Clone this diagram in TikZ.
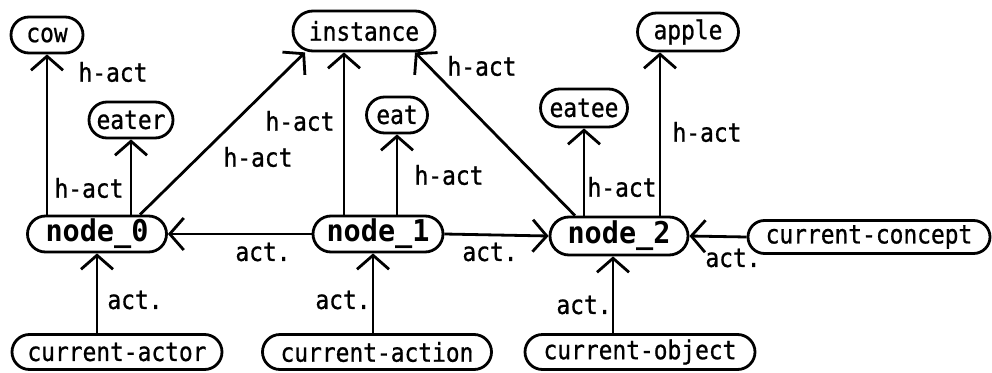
\documentclass[tikz,border=0pt]{standalone}
\usepackage{fontspec}
\setmonofont{DejaVu Sans Mono}
\newfontfamily\lblfont{DejaVu Sans Mono}[FakeStretch=0.88, FakeBold=0.8]
\newfontfamily\boldlblfont{DejaVu Sans Mono Bold}[FakeStretch=0.95]
\usetikzlibrary{shapes.misc,arrows.meta}
\begin{document}
\begin{tikzpicture}[x=1pt,y=-1pt,
  box/.style={draw, line width=2.8pt, rounded rectangle, inner sep=0pt, minimum height=36pt, font=\lblfont\fontsize{26}{26}\selectfont},
  bnode/.style={box, font=\boldlblfont\fontsize{30}{30}\selectfont},
  arr/.style={line width=2.8pt, -{Straight Barb[length=14pt,width=32pt]}},
  lbl/.style={font=\lblfont\fontsize{26}{26}\selectfont, inner sep=0pt}]
\useasboundingbox (0,0) rectangle (992,372);
% nodes
\node[box, minimum width=72pt] (cow) at (47,35) {cow};
\node[box, minimum width=84pt] (eater) at (131,120) {eater};
\node[box, minimum width=142pt, minimum height=40pt] (instance) at (364,31) {instance};
\node[box, minimum width=61pt] (eat) at (397,115) {eat};
\node[box, minimum width=87pt, minimum height=38pt] (eatee) at (584,108) {eatee};
\node[box, minimum width=101pt, minimum height=38pt] (apple) at (688,32) {apple};
\node[bnode, minimum width=139pt] (n0) at (97,234) {node\_0};
\node[bnode, minimum width=130pt] (n1) at (378,234) {node\_1};
\node[bnode, minimum width=138pt, minimum height=38pt] (n2) at (619,236) {node\_2};
\node[box, minimum width=242pt, minimum height=33pt] (cc) at (869,237) {current-concept};
\node[box, minimum width=210pt, minimum height=35pt] (ca) at (117,352) {current-actor};
\node[box, minimum width=229pt, minimum height=35pt] (cac) at (377,352) {current-action};
\node[box, minimum width=230pt, minimum height=35pt] (co) at (640,352) {current-object};
% connectors
\draw[arr] (n0.north -| cow.south) -- (cow.south);
\draw[arr] (n0.north -| eater.south) -- (eater.south);
\draw[arr] ([xshift=43pt]n0.north) -- ([xshift=-59pt]instance.south);
\draw[arr] ([xshift=-34pt]n1.north) -- ([xshift=-34pt]n1.north |- instance.south);
\draw[arr] (n1.north -| eat.south) -- (eat.south);
\draw[arr] ([xshift=-44pt]n2.north) -- ([xshift=51pt]instance.south);
\draw[arr] (n2.north -| eatee.south) -- (eatee.south);
\draw[arr] ([xshift=41pt]n2.north) -- ([xshift=41pt]n2.north |- apple.south);
\draw[arr] (n1.west) -- (n0.east);
\draw[arr] (n1.east) -- (n2.west);
\draw[arr] (cc.west) -- (n2.east);
\draw[arr] (ca.north -| n0.south) -- (n0.south);
\draw[arr] ([xshift=-4pt]cac.north) -- ([xshift=-4pt]cac.north |- n1.south);
\draw[arr] ([xshift=-27pt]co.north) -- ([xshift=-27pt]co.north |- n2.south);
% labels
\node[lbl] (l1) at (113,72) {h-act};
\node[lbl] (l2) at (89,188) {h-act};
\node[lbl] (l3) at (258,157) {h-act};
\node[lbl] (l4) at (300,121) {h-act};
\node[lbl] (l5) at (449,175) {h-act};
\node[lbl] (l6) at (482,66) {h-act};
\node[lbl] (l7) at (622,187) {h-act};
\node[lbl] (l8) at (707,132) {h-act};
\node[lbl] (a1) at (263,252) {act.};
\node[lbl] (a2) at (490,252) {act.};
\node[lbl] (a3) at (733,258) {act.};
\node[lbl] (a4) at (135,300) {act.};
\node[lbl] (a5) at (343,300) {act.};
\node[lbl] (a6) at (584,305) {act.};
\end{tikzpicture}
\end{document}
